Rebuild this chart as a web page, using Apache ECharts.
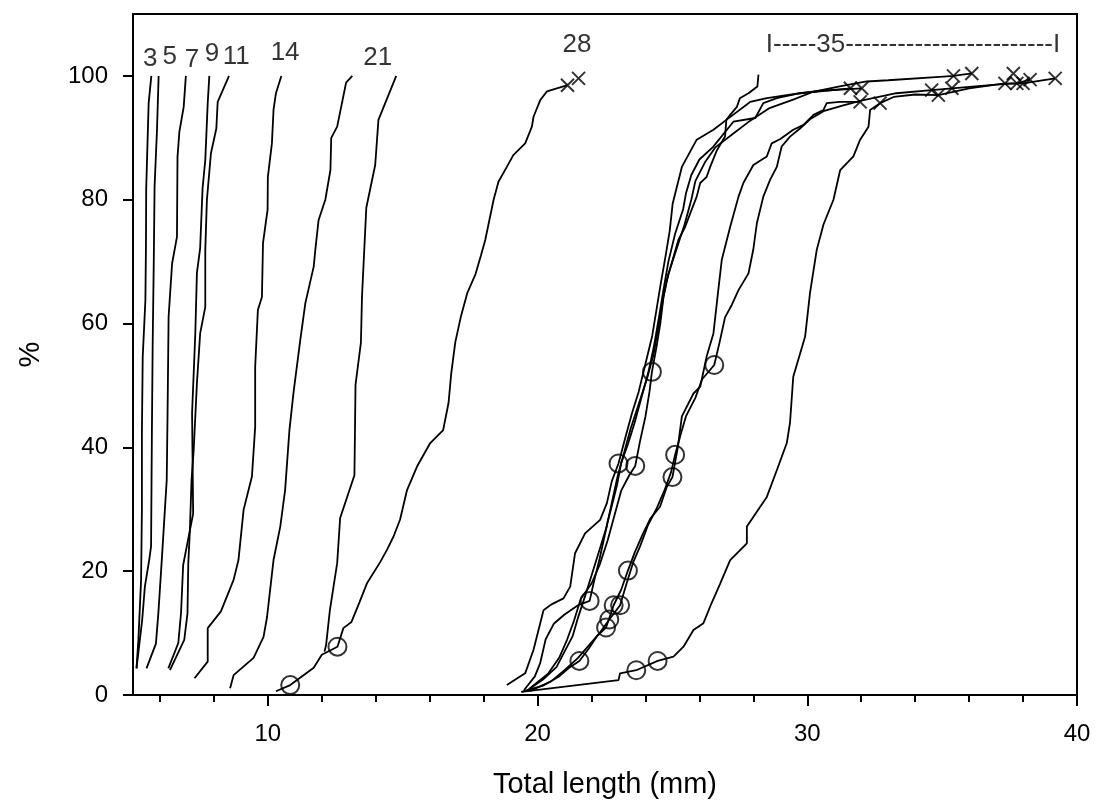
<!DOCTYPE html>
<html lang="en">
<head>
    <meta charset="UTF-8">
    <title>Total length cumulative curves</title>
    <script src="https://cdn.jsdelivr.net/npm/echarts@6/dist/echarts.min.js"></script>
    <style>
        body { margin: 0; background: #fff; }
        #chart { width: 1095px; height: 805px; }
    </style>
</head>
<body>
    <div id="chart"></div>
    <script>
        // cumulative curves, [total length (mm), %]
        var day3 = [[5.13,4.3],[5.2,8.9],[5.3,18.6],[5.33,30],[5.33,42.3],[5.36,54.6],[5.46,63.8],[5.48,72.4],[5.49,81.9],[5.52,86.4],[5.58,95.6],[5.68,100]];
        var day5 = [[5.13,4.3],[5.34,12.1],[5.44,17.5],[5.6,21.8],[5.67,24],[5.68,30],[5.7,42.3],[5.73,56.9],[5.77,70],[5.8,82.1],[5.89,91.3],[5.95,100]];
        var day7 = [[5.5,4.3],[5.85,8.3],[5.94,13.2],[6.06,21.3],[6.25,34.7],[6.28,45],[6.32,61.1],[6.45,69.7],[6.63,74],[6.65,86.9],[6.72,91],[6.88,95],[6.96,100]];
        var day9 = [[6.31,4.3],[6.68,8.4],[6.78,13.2],[6.86,21],[7.23,29.3],[7.19,45.5],[7.31,58.4],[7.37,68.2],[7.49,72.2],[7.58,81.9],[7.68,86.4],[7.77,95.6],[7.83,100]];
        var day11 = [[6.37,4],[6.9,8.9],[7.02,13.2],[7.05,21.3],[7.11,26.7],[7.17,34.7],[7.25,39.6],[7.37,50.4],[7.49,58.4],[7.68,62.7],[7.68,71.9],[7.74,80],[7.89,87.5],[8.09,91.5],[8.14,95.8],[8.56,100]];
        var day14 = [[7.28,2.7],[7.77,5.4],[7.77,10.8],[8.26,13.5],[8.73,18.6],[8.91,21.8],[9.1,29.9],[9.41,35.3],[9.53,43.3],[9.53,53],[9.63,62.2],[9.78,64.3],[9.82,73],[9.99,78.4],[10.0,83.7],[10.15,89.1],[10.21,94.5],[10.3,97.2],[10.5,100]];
        var day21a = [[8.6,1.1],[8.73,3.2],[9.47,6],[9.84,9.4],[9.97,12.6],[10.21,21.8],[10.46,27.2],[10.64,33.1],[10.8,42.8],[10.95,48.8],[11.2,57.3],[11.39,63.3],[11.7,69.2],[11.76,71.9],[11.88,76.7],[12.13,80],[12.32,84.8],[12.35,90],[12.57,91.8],[12.9,98.9],[13.13,100]];
        var day21b = [[12.1,7],[12.16,8.1],[12.3,13.7],[12.57,21.3],[12.68,28.6],[13.21,35.5],[13.25,50.1],[13.45,56.9],[13.49,64.3],[13.65,78.7],[13.98,85.6],[14.1,92.9],[14.76,100]];
        var day28 = [[10.3,0.6],[10.83,1.6],[11.7,4.4],[12.0,6.5],[12.58,7.8],[12.8,10.8],[13.1,11.8],[13.4,15],[13.67,18],[14.17,21.5],[14.41,23.4],[14.66,25.6],[14.9,28.3],[15.16,33.1],[15.53,36.9],[16.02,40.7],[16.5,42.8],[16.7,47.2],[16.8,52],[16.95,57],[17.15,61],[17.4,65],[17.7,68],[17.9,71],[18.06,73.5],[18.37,80],[18.55,82.9],[18.86,85.3],[19.1,87.2],[19.54,89.1],[19.79,91.8],[19.85,93.4],[20.1,96.1],[20.35,97.5],[21.11,98.5]];
        var day35a = [[18.86,1.6],[19.54,3.5],[19.85,7.3],[20.22,13.7],[20.5,14.6],[20.96,15.6],[21.21,17.5],[21.39,22.9],[21.76,26.1],[22.32,28.3],[22.57,31],[22.75,34.5],[23.0,37.4],[23.25,41.5],[23.5,45.5],[23.75,49],[24.0,53.5],[24.25,58],[24.4,62],[24.55,66],[24.75,71],[24.9,75],[25.01,79.4],[25.35,85.3],[25.9,89.7],[26.52,91.3],[27.0,92.9],[27.88,95.8],[28.5,96.4],[29.73,97.2],[31.6,98.0]];
        var day35b = [[19.5,0.8],[19.9,3],[20.1,5.2],[20.3,9],[20.6,11.5],[21.0,13],[21.5,14.5],[21.93,15.2],[22.1,18.5],[22.3,22],[22.45,25],[22.6,28],[22.78,31],[22.95,34],[23.1,37.5],[23.35,40.5],[23.6,44],[23.85,48],[24.1,52],[24.3,56],[24.5,61],[24.65,65],[24.85,70],[25.1,74.5],[25.4,78.5],[25.5,81],[25.7,84],[26.0,86.5],[26.5,88.5],[27.26,92.6],[28.07,93.2],[28.37,95.6],[28.87,96.4],[29.73,97.2],[30.5,97.6],[32.02,98.0]];
        var day35c = [[19.7,1],[20.4,3.5],[20.8,6],[21.1,9],[21.35,12],[21.6,15.5],[22.0,18],[22.3,21],[22.6,25],[22.85,29],[23.1,33],[23.4,35.5],[23.62,37],[23.8,41],[24.0,45],[24.15,49],[24.24,52.2],[24.4,56],[24.55,60],[24.67,64.3],[24.79,67],[25.04,70.8],[25.22,73.5],[25.47,75.6],[25.66,77.8],[25.9,80.5],[26.03,82.7],[26.27,83.7],[26.4,85.3],[26.65,88],[26.95,90.2],[27.0,92.9],[27.14,93.7],[27.39,95],[27.5,96.4],[27.82,97.2],[28.15,98.3],[28.19,100.2]];
        var day35d = [[19.6,0.7],[20.2,2.5],[20.7,4.5],[21.0,7],[21.3,9.5],[21.5,12.5],[21.8,16.5],[22.05,20],[22.3,23.5],[22.55,27],[22.75,31],[22.95,35],[23.2,39],[23.45,43],[23.75,47],[24.05,51],[24.3,55],[24.5,60],[24.65,64],[24.85,68],[25.15,72],[25.45,76],[25.7,80],[25.85,83],[26.2,86],[26.6,88.5],[27.2,90.5],[27.8,92.5],[28.6,94.8],[29.5,96.2],[30.2,97.4],[31.2,98.3],[32.2,99.1],[33.0,99.3],[35.04,99.9],[35.42,100.0],[36.1,100.4]];
        var day35e = [[19.4,0.5],[20.2,1.5],[20.8,3],[21.2,4.5],[21.55,5.5],[21.9,7.5],[22.2,9.5],[22.54,10.9],[22.82,14.5],[23.1,17],[23.35,20.1],[23.6,23],[23.9,26],[24.18,28.5],[24.54,30.4],[24.79,33.6],[25.0,35.2],[25.2,40],[25.35,45],[25.78,48.7],[26.03,49.8],[26.27,54.7],[26.52,58.4],[26.7,65.4],[26.83,70.3],[27.14,75.6],[27.45,80.5],[27.63,82.7],[28.0,85.6],[28.5,87],[28.68,89.1],[29.0,89.8],[29.48,91.3],[29.86,92.1],[30.23,93.7],[30.6,94.5],[30.72,95.6],[31.2,95.8],[31.96,95.8]];
        var day35f = [[19.7,0.6],[20.5,2.2],[21.0,4],[21.5,6],[22.0,8.5],[22.3,10],[22.66,12.2],[23.06,14.5],[23.3,18],[23.55,21.5],[23.8,24],[24.1,27.5],[24.4,30],[24.7,33],[24.95,36],[25.1,38.8],[25.3,42],[25.5,45],[25.85,48],[26.1,51],[26.55,53.3],[26.75,57],[26.95,61],[27.2,63],[27.45,65.4],[27.82,68.1],[28.0,72],[28.13,76.2],[28.37,80.5],[28.62,83.2],[28.87,85.3],[29.05,88.6],[29.36,90.2],[29.73,91.5],[30.1,93],[30.6,94.3],[31.3,95.2],[32.0,96.0],[33.3,97.2],[34.61,97.7],[35.36,98.0],[37.0,98.6],[37.77,98.8],[38.26,99.4]];
        var day35g = [[19.4,0.5],[23.0,2.4],[23.06,3.5],[23.66,4],[24.45,5.5],[25.04,6.2],[25.41,7.8],[25.78,10.5],[26.15,11.6],[26.4,14.3],[26.77,18],[27.14,21.8],[27.76,24.5],[27.76,27.2],[28.5,32],[28.87,36.3],[29.24,40.7],[29.36,44],[29.48,51.4],[29.92,57.9],[30.1,64.9],[30.35,71.9],[30.6,76],[30.97,80],[31.22,84.8],[31.71,87],[31.96,89.7],[32.27,91.8],[32.33,94.5],[32.7,95.6],[33.2,96.6],[34.0,97.0],[34.86,96.9],[36.0,98.0],[37.33,98.8],[38.0,98.8],[39.19,99.6]];

        var curves = [day3, day5, day7, day9, day11, day14, day21a, day21b, day28,
            day35a, day35b, day35c, day35d, day35e, day35f, day35g];

        // open circles and x marks on the curves
        var circlePoints = [[10.83,1.6],[12.58,7.8],[21.55,5.5],[23.66,4],[24.45,5.5],[21.93,15.2],[22.82,14.5],[23.06,14.5],[22.66,12.2],[22.54,10.9],[23.35,20.1],[23.0,37.4],[23.62,37],[25.0,35.2],[25.1,38.8],[24.24,52.2],[26.55,53.3]];
        var crossPoints = [[21.11,98.5],[21.52,99.6],[31.6,98.0],[32.02,98.0],[31.96,95.8],[32.7,95.6],[34.61,97.7],[34.86,96.9],[35.36,98.0],[35.42,100.0],[36.1,100.4],[37.33,98.8],[37.64,100.4],[37.77,98.8],[38.0,98.8],[38.26,99.4],[39.19,99.6]];

        // day labels above the curves
        var dayLabels = ['3', '5', '7', '9', '11', '14', '21', '28', 'I-----35------------------------I'];
        var dayLabelX = [5.64, 6.36, 7.19, 7.93, 8.83, 10.64, 14.07, 21.46, 33.92];
        var dayLabelY = [102.7, 103.1, 102.6, 103.6, 103.1, 103.8, 103.0, 105.1, 105.0];

        var majorTicks = [10, 20, 30, 40];
        var minorTicks = [6, 8, 12, 14, 16, 18, 22, 24, 26, 28, 32, 34, 36, 38];
        var yTicks = [0, 20, 40, 60, 80, 100];

        var font = '"Liberation Sans", Arial, sans-serif';
        var chart = echarts.init(document.getElementById('chart'));

        var series = curves.map(function (c) {
            return {
                type: 'line',
                data: c,
                symbol: 'none',
                silent: true,
                lineStyle: { color: '#000', width: 1.8 }
            };
        });

        series.push({
            type: 'scatter',
            data: circlePoints,
            symbol: 'circle',
            symbolSize: 18,
            silent: true,
            itemStyle: { color: 'rgba(0,0,0,0)', borderColor: '#000', borderWidth: 2 },
            z: 5
        });

        series.push({
            type: 'scatter',
            data: crossPoints,
            symbol: 'path://M0,0L10,10M10,0L0,10',
            symbolSize: 13,
            silent: true,
            itemStyle: { color: 'rgba(0,0,0,0)', borderColor: '#000', borderWidth: 2 },
            z: 5
        });

        series.push({
            type: 'scatter',
            data: dayLabels.map(function (t, i) {
                return { name: t, value: [dayLabelX[i], dayLabelY[i]] };
            }),
            symbolSize: 0,
            silent: true,
            label: {
                show: true,
                position: 'inside',
                formatter: '{b}',
                color: '#000',
                fontSize: 26,
                fontFamily: font
            }
        });

        var option = {
            animation: false,
            backgroundColor: '#fff',
            grid: {
                left: 133, right: 18, top: 14, bottom: 110,
                show: true, borderColor: '#000', borderWidth: 2
            },
            xAxis: [
                {
                    type: 'value', min: 5, max: 40,
                    name: 'Total length (mm)',
                    nameLocation: 'middle',
                    nameGap: 75,
                    nameTextStyle: { fontSize: 29, color: '#000', fontFamily: font },
                    splitLine: { show: false },
                    axisLine: { lineStyle: { color: '#000', width: 2 } },
                    axisTick: { customValues: majorTicks, length: 11, lineStyle: { color: '#000', width: 2 } },
                    axisLabel: { customValues: majorTicks, margin: 27, fontSize: 24, color: '#000', fontFamily: font }
                },
                {
                    type: 'value', min: 5, max: 40, position: 'bottom',
                    splitLine: { show: false },
                    axisLine: { show: false },
                    axisTick: { customValues: minorTicks, length: 7, lineStyle: { color: '#000', width: 2 } },
                    axisLabel: { show: false }
                }
            ],
            yAxis: {
                type: 'value', min: 0, max: 110,
                name: '%',
                nameLocation: 'middle',
                nameGap: 88,
                nameRotate: 90,
                nameTextStyle: { fontSize: 29, color: '#000', fontFamily: font },
                splitLine: { show: false },
                axisLine: { lineStyle: { color: '#000', width: 2 } },
                axisTick: { customValues: yTicks, length: 10, lineStyle: { color: '#000', width: 2 } },
                axisLabel: { customValues: yTicks, margin: 25, fontSize: 24, color: '#000', fontFamily: font }
            },
            series: series
        };

        chart.setOption(option);
    </script>
</body>
</html>
